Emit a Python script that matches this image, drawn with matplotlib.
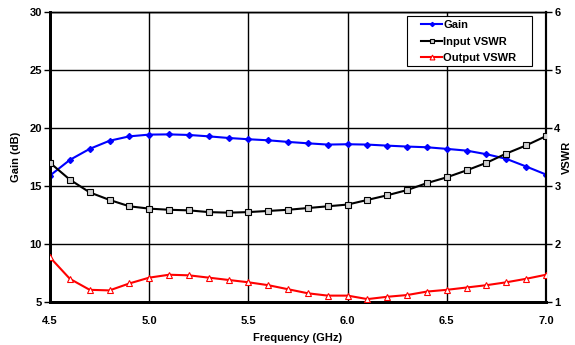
import matplotlib
matplotlib.use("Agg")
import matplotlib.pyplot as plt
from matplotlib.patches import Rectangle

freq = [4.5, 4.6, 4.7, 4.8, 4.9, 5.0, 5.1, 5.2, 5.3, 5.4, 5.5, 5.6, 5.7,
        5.8, 5.9, 6.0, 6.1, 6.2, 6.3, 6.4, 6.5, 6.6, 6.7, 6.8, 6.9, 7.0]
gain = [15.9, 17.25, 18.2, 18.9, 19.28, 19.43, 19.45, 19.4, 19.28, 19.14, 19.03, 18.94, 18.8,
        18.68, 18.57, 18.6, 18.57, 18.48, 18.4, 18.34, 18.2, 18.05, 17.74, 17.34, 16.68, 15.99]
input_vswr = [3.40, 3.11, 2.89, 2.76, 2.65, 2.61, 2.59, 2.58, 2.55, 2.54, 2.55, 2.57, 2.59,
              2.62, 2.65, 2.68, 2.76, 2.84, 2.93, 3.05, 3.15, 3.27, 3.40, 3.56, 3.70, 3.86]
output_vswr = [1.77, 1.40, 1.21, 1.20, 1.32, 1.42, 1.47, 1.46, 1.42, 1.38, 1.34, 1.29, 1.22,
               1.15, 1.11, 1.11, 1.05, 1.09, 1.12, 1.18, 1.21, 1.25, 1.29, 1.34, 1.40, 1.47]

x_ticks = [4.5, 5.0, 5.5, 6.0, 6.5, 7.0]
x_labels = ["4.5", "5.0", "5.5", "6.0", "6.5", "7.0"]
gain_ticks = [5, 10, 15, 20, 25, 30]
vswr_ticks = [1, 2, 3, 4, 5, 6]

plt.rcParams['font.family'] = ['Liberation Sans', 'DejaVu Sans']
plt.rcParams['font.weight'] = 'bold'

fig = plt.figure(figsize=(5.75, 3.45), dpi=100)
ax = fig.add_axes([50/575, 1 - 302/345, 496/575, 290/345])
ax2 = ax.twinx()

ax.set_xlim(4.5, 7.0)
ax.set_ylim(5, 30)
ax2.set_ylim(1, 6)
ax.set_xticks(x_ticks)
ax.set_xticklabels(x_labels)
ax.set_yticks(gain_ticks)
ax2.set_yticks(vswr_ticks)

ax.grid(True, color='black', linewidth=1.0)
ax.set_axisbelow(True)

l1, = ax.plot(freq, gain, color='#0000ff', linewidth=1.5, marker='D', markersize=3,
              markerfacecolor='#0000ff', markeredgecolor='#0000ff', label='Gain', zorder=3)
l2, = ax2.plot(freq, input_vswr, color='black', linewidth=1.5, marker='s', markersize=5,
               markerfacecolor='#d0d0d0', markeredgecolor='black', markeredgewidth=0.8,
               label='Input VSWR', zorder=3)
l3, = ax2.plot(freq, output_vswr, color='#ff0000', linewidth=1.5, marker='^', markersize=5,
               markerfacecolor='white', markeredgecolor='#ff0000', markeredgewidth=0.8,
               label='Output VSWR', zorder=3)

for a in (ax, ax2):
    for s in a.spines.values():
        s.set_color('black')
    a.spines['left'].set_linewidth(2)
    a.spines['bottom'].set_linewidth(2)
    a.spines['right'].set_linewidth(1.5)
    a.spines['top'].set_linewidth(1)

ax.tick_params(axis='x', length=0, pad=10, labelsize=8)
ax.tick_params(axis='y', direction='out', length=4, width=1, pad=2, labelsize=8)
ax2.tick_params(axis='y', direction='out', length=4, width=1, pad=2, labelsize=8)

ax.set_xlabel('Frequency (GHz)', fontsize=8, fontweight='bold', labelpad=5)
ax.set_ylabel('Gain (dB)', fontsize=8, fontweight='bold', labelpad=6)
ax2.set_ylabel('VSWR', fontsize=8, fontweight='bold', labelpad=1)

# legend box (frame drawn separately to match the wide padding of the original)
fig.patches.append(Rectangle((407/575, 1 - 66/345), 125/575, 50/345,
                             transform=fig.transFigure, facecolor='white',
                             edgecolor='black', linewidth=0.8, zorder=5))
leg = fig.legend(handles=[l1, l2, l3], loc='upper left',
                 bbox_to_anchor=(421/575, 1 - 20/345), bbox_transform=fig.transFigure,
                 borderaxespad=0, borderpad=0, fontsize=8, frameon=False,
                 handlelength=1.9, handletextpad=0.1, labelspacing=0.6,
                 markerscale=0.7)
leg.set_zorder(6)
for t in leg.get_texts():
    t.set_fontweight('bold')

fig.savefig('out.png', dpi=100)
